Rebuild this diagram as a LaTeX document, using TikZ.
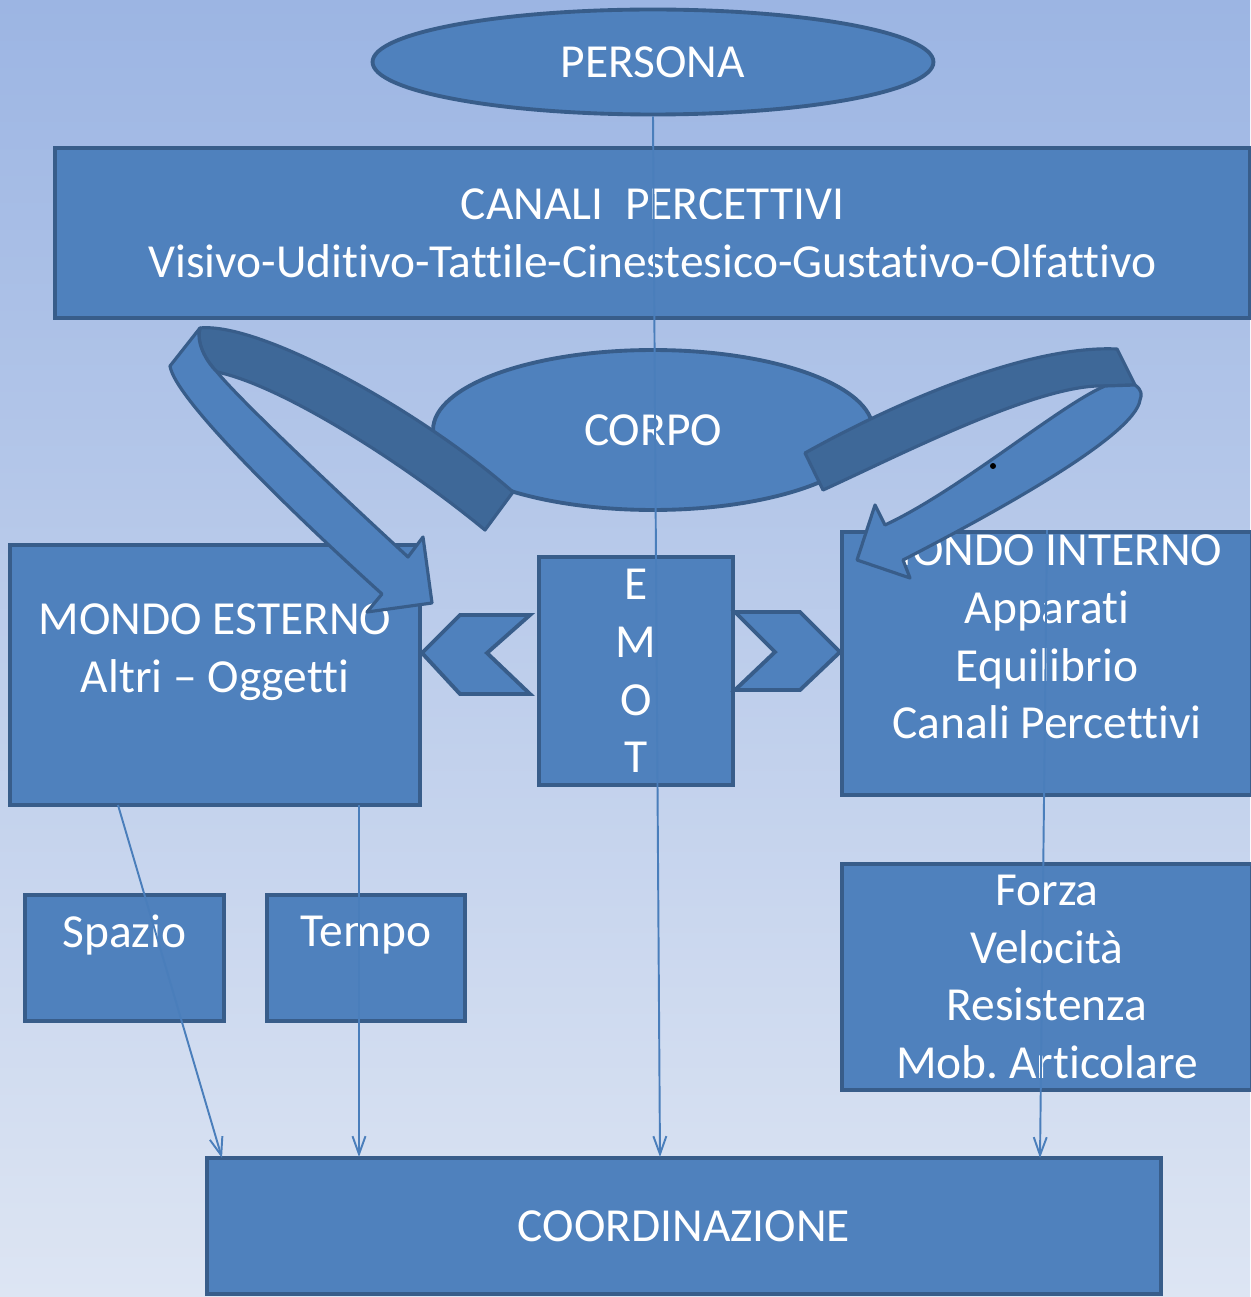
\documentclass[tikz,border=0pt]{standalone}
\usepackage{fontspec}
\setmainfont{Carlito}[Ligatures=NoCommon]
\frenchspacing
\usetikzlibrary{shapes.geometric,arrows.meta,positioning,calc}
\definecolor{boxblue}{RGB}{79,129,189}
\definecolor{boxedge}{RGB}{56,93,138}
\definecolor{bandblue}{RGB}{62,104,152}
\definecolor{linkblue}{RGB}{74,126,187}
\definecolor{bgtop}{RGB}{156,181,227}
\definecolor{bgbottom}{RGB}{221,229,243}

\begin{document}
\begin{tikzpicture}[x=0.02cm, y=-0.02cm,
        blk/.style={draw=boxedge, fill=boxblue, line width=2.2pt, inner sep=0pt},
        txt/.style={text=white, align=center, font=\fontsize{27}{32.8}\selectfont, inner sep=0pt},
        band/.style={draw=boxedge, line width=1.8pt, line join=round},
        link/.style={draw=linkblue, line width=1.1pt, -{Straight Barb[length=3.6mm,width=2.6mm]}}]
        % Page and background
        \useasboundingbox (0,0) rectangle (1250,1297);
        \shade[top color=bgtop, bottom color=bgbottom] (0,0) rectangle (1250,1297);

        % Top: person and perceptive channels
        \node[blk, txt, ellipse, minimum width=11.22cm, minimum height=2.1cm] (persona) at (653,62) {PERSONA};
        \node[blk, txt, minimum width=23.9cm, minimum height=3.4cm] (canali) at (652.5,233)
            {CANALI\ \ PERCETTIVI\\Visivo-Uditivo-Tattile-Cinestesico-Gustativo-Olfattivo};
        \node[blk, txt, ellipse, minimum width=8.8cm, minimum height=3.2cm] (corpo) at (653,430) {CORPO};

        % Middle row
        \node[blk, minimum width=8.2cm, minimum height=5.2cm] (esterno) at (215,675) {};
        \node[txt] (esterno-txt) at (215,652) {MONDO ESTERNO\\Altri -- Oggetti};
        \node[blk, txt, minimum width=3.88cm, minimum height=4.56cm] (emot) at (636,671) {E\\M\\O\\T};
        \node[blk, minimum width=8.2cm, minimum height=5.26cm] (interno) at (1047,663.5) {};
        \node[txt] (interno-txt) at (1047,637) {MONDO INTERNO\\Apparati\\Equilibrio\\Canali Percettivi};

        % Lower boxes
        \node[blk, minimum width=3.98cm, minimum height=2.52cm] (spazio) at (124.5,958) {};
        \node[txt] (spazio-txt) at (124.5,935) {Spazio};
        \node[blk, minimum width=3.96cm, minimum height=2.52cm] (tempo) at (366,958) {};
        \node[txt] (tempo-txt) at (366,935) {Tempo};
        \node[blk, txt, minimum width=8.2cm, minimum height=4.52cm] (forza) at (1047,977)
            {Forza\\Velocit\`a\\Resistenza\\Mob. Articolare};
        \node[blk, txt, minimum width=19.08cm, minimum height=2.72cm] (coord) at (684,1226) {COORDINAZIONE};

        % Curved arrow to the left (back, then front)
        \draw[band, fill=bandblue] (200,328) .. controls (260,322) and (420,410) .. (513,492)
            -- (485,530) .. controls (400,460) and (280,385) .. (217,372)
            .. controls (205,360) and (196,342) .. cycle;
        \draw[band, fill=boxblue] (200,328) -- (170,366) .. controls (175,400) and (300,520) .. (382,594)
            -- (367,612) -- (432,603) -- (423,537) -- (408,557)
            .. controls (330,485) and (240,400) .. (217,372)
            .. controls (205,360) and (196,342) .. cycle;

        % Curved arrow to the right (back, then front)
        \draw[band, fill=bandblue] (805,453) .. controls (900,400) and (1030,345) .. (1117,349)
            -- (1135,385) -- (1105,386) .. controls (1040,383) and (900,455) .. (823,490) -- cycle;
        \draw[band, fill=boxblue] (1105,386) -- (1135,385) .. controls (1142,390) and (1142,395) .. (1140,400)
            .. controls (1135,435) and (1000,510) .. (903,560)
            -- (910,578) -- (857,560) -- (875,505) -- (885,525)
            .. controls (960,490) and (1060,405) .. cycle;
        \fill (993,466) circle[radius=3];

        % Chevrons beside EMOT
        \draw[blk] (422,653) -- (460,615) -- (530,615) -- (487,653) -- (530,694) -- (460,694) -- cycle;
        \draw[blk] (735,612) -- (800,612) -- (840,652) -- (800,690) -- (735,690) -- (775,652) -- cycle;

        % Links down to COORDINAZIONE
        \coordinate (es-a) at (118,805);
        \coordinate (es-b) at (359,805);
        \coordinate (co-a) at (222,1158);
        \coordinate (co-b) at (359,1157);
        \coordinate (co-c) at (660,1157);
        \coordinate (co-d) at (1040,1158);
        \draw[link] (persona.south) -- (co-c);
        \draw[link] (es-a) -- (co-a);
        \draw[link] (es-b) -- (co-b);
        \draw[link] (interno.north) -- (co-d);
\end{tikzpicture}
\end{document}
